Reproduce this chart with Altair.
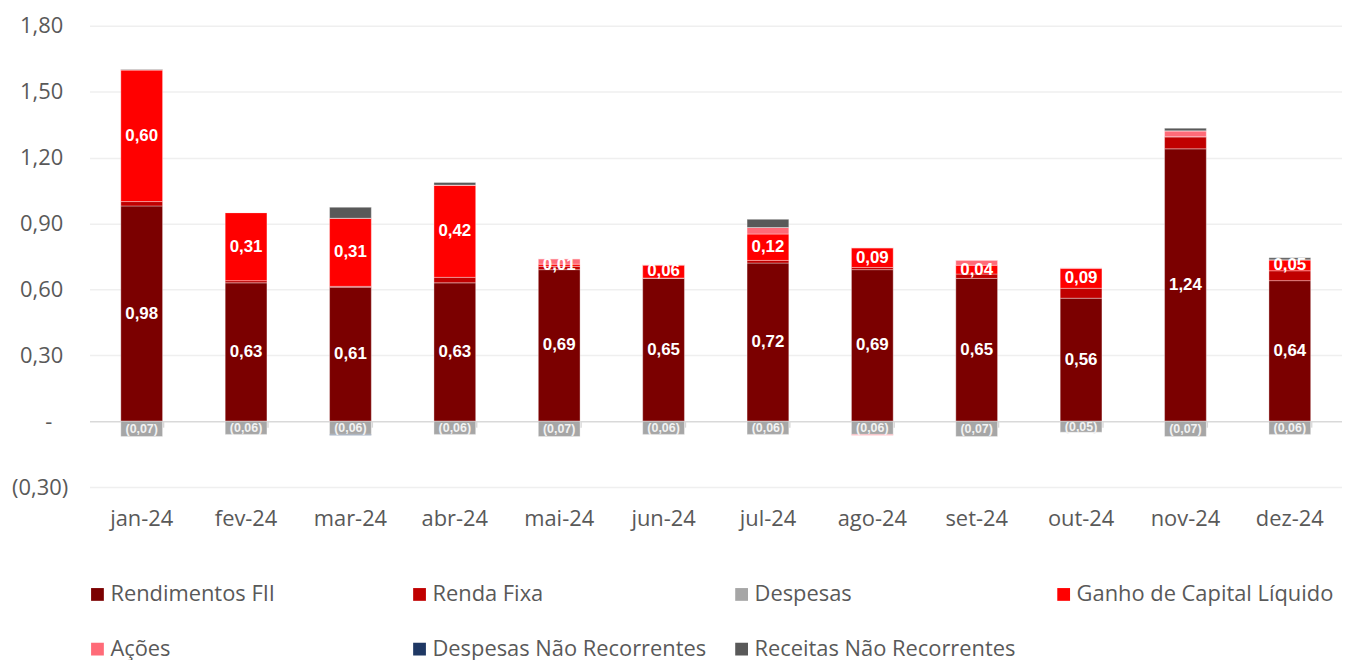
import altair as alt
import pandas as pd

months = ["jan-24", "fev-24", "mar-24", "abr-24", "mai-24", "jun-24",
          "jul-24", "ago-24", "set-24", "out-24", "nov-24", "dez-24"]
series = ["Rendimentos FII", "Renda Fixa", "Despesas", "Ganho de Capital Líquido",
          "Ações", "Despesas Não Recorrentes", "Receitas Não Recorrentes"]
colors = ["#7B0000", "#C00000", "#A6A6A6", "#FF0000", "#FF6B78", "#1F3864", "#595959"]

rendimentos_fii = [0.98, 0.63, 0.61, 0.63, 0.69, 0.65, 0.72, 0.69, 0.65, 0.56, 1.24, 0.64]
renda_fixa = [0.02, 0.01, 0.004, 0.025, 0.015, 0.002, 0.012, 0.01, 0.02, 0.045, 0.055, 0.045]
despesas = [-0.07, -0.06, -0.06, -0.06, -0.07, -0.06, -0.06, -0.06, -0.07, -0.05, -0.07, -0.06]
ganho_capital = [0.60, 0.31, 0.31, 0.42, 0.01, 0.06, 0.12, 0.09, 0.04, 0.09, 0.0, 0.05]
acoes = [0.0, 0.0, 0.0, 0.0, 0.025, 0.0, 0.03, -0.004, 0.024, 0.005, 0.027, 0.0]
despesas_nr = [0.0, 0.0, -0.004, 0.0, 0.0, 0.0, 0.0, 0.0, 0.0, 0.0, 0.0, 0.0]
receitas_nr = [0.002, 0.0, 0.05, 0.012, 0.0, 0.0, 0.037, 0.0, 0.0, 0.0, 0.012, 0.009]

y_ticks_pos = [0.3, 0.6, 0.9, 1.2, 1.5, 1.8]
y_tick_neg = [-0.3]
y_tick_zero = [0]

all_vals = [rendimentos_fii, renda_fixa, despesas, ganho_capital, acoes, despesas_nr, receitas_nr]
rows = []
for si, (name, vals) in enumerate(zip(series, all_vals)):
    for m, v in zip(months, vals):
        rows.append({"month": m, "series": name, "value": v, "ord": si})
df = pd.DataFrame(rows)

FONT = "Open Sans"
GREY = "#595959"
AX_FS = 22

base = alt.Chart(df).transform_stack(
    stack="value", groupby=["month"], as_=["v0", "v1"],
    sort=[alt.SortField(field="ord", order="ascending")]
).transform_calculate(
    mid="(datum.v0 + datum.v1) / 2",
    lab="datum.value < 0 ? '(' + replace(format(-datum.value, '.2f'), '.', ',') + ')' : replace(format(datum.value, '.2f'), '.', ',')"
)

xscale = alt.Scale(paddingInner=0.6, paddingOuter=0.3)
yscale = alt.Scale(domain=[-0.3, 1.8], nice=False, zero=False)

ylabel = ("abs(datum.value) < 1e-9 ? '-' : (datum.value < 0 ? '(' + "
          "replace(format(-datum.value, '.2f'), '.', ',') + ')' : "
          "replace(format(datum.value, '.2f'), '.', ','))")


def yaxis(values, pad, grid=True):
    return alt.Axis(values=values, labelExpr=ylabel, domain=False, ticks=False,
                    orient="left", grid=grid,
                    gridColor="#EFEFEF", gridWidth=1.5, labelPadding=pad,
                    labelFontSize=AX_FS, labelFont=FONT, labelColor=GREY)


bars = base.mark_bar(stroke="#ffffff", strokeOpacity=0.35, strokeWidth=1).encode(
    x=alt.X("month:N", sort=months, scale=xscale, title=None,
            axis=alt.Axis(orient="bottom", domain=False, ticks=False, labelAngle=0,
                          labelPadding=22, labelFontSize=AX_FS, labelFont=FONT,
                          labelColor=GREY, grid=False)),
    y=alt.Y("v0:Q", scale=yscale, title=None, axis=yaxis(y_ticks_pos, 27)),
    y2="v1:Q",
    color=alt.Color("series:N", scale=alt.Scale(domain=series, range=colors),
                    legend=alt.Legend(title=None, orient="none", legendX=-3, legendY=561,
                                      direction="horizontal",
                                      columns=4, symbolType="square", symbolSize=165,
                                      symbolStrokeWidth=0, labelFontSize=22,
                                      labelFont=FONT, labelColor=GREY, labelOffset=2,
                                      labelLimit=500, columnPadding=24, rowPadding=33,
                                      gridAlign="all")),
    order=alt.Order("ord:Q"),
)

main_labels = base.transform_filter(
    "datum.ord == 0 || (datum.ord == 3 && datum.value > 0.005)"
).mark_text(font="Liberation Sans", fontWeight="bold", fontSize=17,
            color="white", baseline="middle").encode(
    x=alt.X("month:N", sort=months, scale=xscale, title=None,
            axis=alt.Axis(orient="bottom", offset=-66.29, labels=False, domain=True,
                          domainColor="#D9D9D9", domainWidth=1.5, ticks=True,
                          tickBand="extent", tickColor="#D9D9D9", tickWidth=1.5,
                          tickSize=6, grid=False)),
    y=alt.Y("mid:Q", scale=yscale, title=None, axis=yaxis(y_tick_neg, 22)),
    text="lab:N",
)

desp_labels = base.transform_filter("datum.ord == 2").mark_text(
    font="Liberation Sans", fontWeight="bold", fontSize=12.5,
    color="#F2F2F2", baseline="middle").encode(
    x=alt.X("month:N", sort=months, scale=xscale, axis=None),
    y=alt.Y("mid:Q", scale=yscale, title=None, axis=yaxis(y_tick_zero, 38, grid=False)),
    text="lab:N",
)

chart = alt.layer(bars, main_labels, desp_labels).resolve_axis(
    x="independent", y="independent"
).properties(
    width=1260, height=464,
    autosize=alt.AutoSizeParams(type="none"),
    padding={"left": 82, "top": 16, "right": 0, "bottom": 176},
).configure_view(stroke=None)

chart.save("out.html", embed_options={"renderer": "svg", "actions": False})
